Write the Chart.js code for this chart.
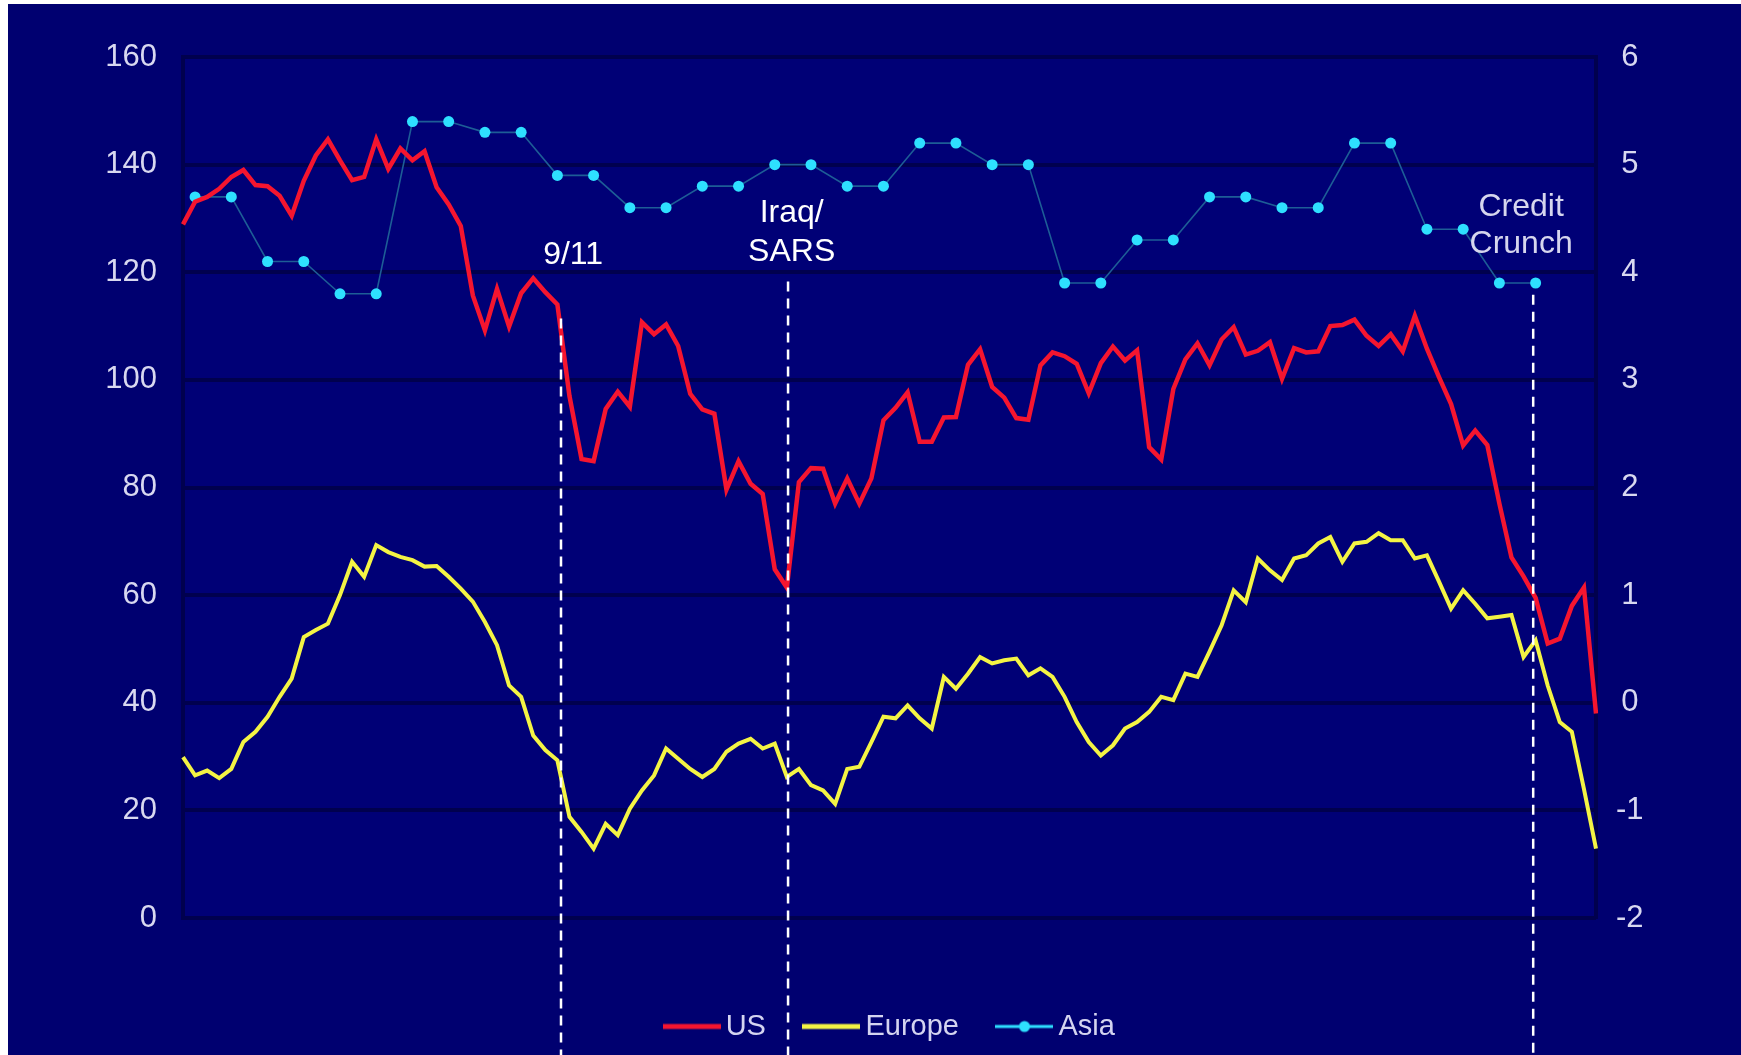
<!DOCTYPE html>
<html>
<head>
<meta charset="utf-8">
<script src="https://cdn.jsdelivr.net/npm/chart.js@4.4.1/dist/chart.umd.min.js"></script>
<style>
  html, body { margin: 0; padding: 0; background: #ffffff; width: 1741px; height: 1055px; overflow: hidden; }
  #wrap { position: absolute; left: 8px; top: 4px; width: 1733px; height: 1051px; }
</style>
</head>
<body>
<div id="wrap"><canvas id="chart" width="1733" height="1051"></canvas></div>
<script>
// ---------- DATA ----------
const monthNames = ['Jan','Feb','Mar','Apr','May','Jun','Jul','Aug','Sep','Oct','Nov','Dec'];
const firstYear = 1999;
const monthCount = 118; // Jan 1999 .. Oct 2008
const categories = Array.from({length: monthCount}, (_, i) => monthNames[i % 12] + ' ' + (firstYear + Math.floor(i / 12)));

// US (left axis), monthly
const usValues = [
  128.9, 133.1, 134.0, 135.5, 137.7, 139.0, 136.2, 136.0, 134.2, 130.5, 137.0, 141.7,
  144.7, 140.8, 137.1, 137.7, 144.7, 139.2, 143.0, 140.8, 142.5, 135.8, 132.6, 128.6,
  115.7, 109.2, 116.9, 109.9, 116.1, 118.9, 116.3, 114.0, 97.0, 85.3, 84.9, 94.6,
  97.8, 95.0, 110.7, 108.5, 110.3, 106.3, 97.4, 94.5, 93.7, 79.6, 84.9, 80.7,
  78.8, 64.8, 61.4, 81.0, 83.6, 83.5, 77.0, 81.7, 77.0, 81.7, 92.5, 94.8,
  97.7, 88.5, 88.5, 93.0, 93.1, 102.8, 105.7, 98.7, 96.7, 92.9, 92.6, 102.7,
  105.1, 104.4, 103.0, 97.5, 103.1, 106.2, 103.6, 105.5, 87.5, 85.2, 98.3, 103.8,
  106.8, 102.7, 107.5, 109.8, 104.7, 105.4, 107.0, 100.2, 105.9, 105.1, 105.3, 110.0,
  110.2, 111.2, 108.2, 106.3, 108.5, 105.3, 111.9, 105.8, 100.5, 95.5, 87.8, 90.6,
  87.9, 77.0, 67.0, 63.5, 59.5, 51.0, 51.9, 58.0, 61.4, 38.0
];

// Europe (left axis), monthly
const europeValues = [
  29.9, 26.5, 27.4, 26.0, 27.7, 32.7, 34.6, 37.4, 41.1, 44.5, 52.2, 53.5,
  54.7, 60.0, 66.2, 63.4, 69.3, 68.0, 67.1, 66.5, 65.3, 65.4, 63.4, 61.2,
  58.8, 55.0, 50.7, 43.2, 41.1, 33.9, 31.2, 29.3, 18.8, 16.0, 12.9, 17.5,
  15.4, 20.3, 23.7, 26.5, 31.5, 29.6, 27.7, 26.2, 27.7, 30.9, 32.4, 33.3,
  31.5, 32.4, 26.2, 27.7, 24.7, 23.7, 21.2, 27.7, 28.1, 32.7, 37.4, 37.1,
  39.5, 37.1, 35.2, 44.8, 42.6, 45.4, 48.5, 47.3, 47.9, 48.2, 45.1, 46.4,
  44.8, 41.1, 36.4, 32.7, 30.2, 32.1, 35.2, 36.4, 38.3, 41.1, 40.5, 45.4,
  44.8, 49.5, 54.4, 60.9, 58.7, 66.8, 64.6, 62.8, 66.8, 67.4, 69.6, 70.8,
  66.2, 69.6, 69.9, 71.5, 70.2, 70.2, 66.8, 67.4, 62.5, 57.5, 60.9, 58.4,
  55.7, 56.0, 56.3, 48.5, 51.6, 43.2, 36.4, 34.6, 24.0, 12.9
];

// Asia (right axis), one value per quarter, plotted at the middle month
const asiaValues = [
  4.7, 4.7, 4.1, 4.1, 3.8, 3.8, 5.4, 5.4, 5.3, 5.3, 4.9, 4.9, 4.6, 4.6, 4.8, 4.8, 5.0, 5.0, 4.8,
  4.8, 5.2, 5.2, 5.0, 5.0, 3.9, 3.9, 4.3, 4.3, 4.7, 4.7, 4.6, 4.6, 5.2, 5.2, 4.4, 4.4, 3.9, 3.9
];
const asiaMonths = categories.filter((_, i) => i % 3 === 1).slice(0, asiaValues.length);

// Axis ticks
const leftTicks = [0, 20, 40, 60, 80, 100, 120, 140, 160];
const rightTicks = [-2, -1, 0, 1, 2, 3, 4, 5, 6];

// Event annotations (x in month-index units, y in left-axis units)
const eventText = [['9/11'], ['Iraq/', 'SARS'], ['Credit', 'Crunch']];
const eventLineX = [31.3, 50.1, 111.8];
const eventLineTop = [111.4, 118.3, 115.8];
const eventLabelX = [32.3, 50.4, 110.8];
const eventLabelY = [[121.6], [129.4, 122.0], [130.5, 123.5]];
const eventColor = ['#ffffff', '#ffffff', '#d6d6ee'];

// ---------- STYLE ----------
const FONT = '"Liberation Sans", Arial, sans-serif';
const OUTER_BG = '#000070';
const PLOT_BG = '#000076';
const GRID = '#00004e';
const TICK_COLOR = '#d8d8f0';
const US_COLOR = '#f5152f';
const EU_COLOR = '#f4f444';
const ASIA_DOT = '#2ee0ff';

function legendIcon(color, width, withDot) {
  const c = document.createElement('canvas');
  c.width = 58; c.height = 14;
  const g = c.getContext('2d');
  g.strokeStyle = color; g.lineWidth = width;
  g.beginPath(); g.moveTo(0, 7); g.lineTo(58, 7); g.stroke();
  if (withDot) {
    g.fillStyle = color;
    g.beginPath(); g.arc(29, 7, 5.5, 0, Math.PI * 2); g.fill();
  }
  return c;
}
const legendIcons = [legendIcon(US_COLOR, 5, false), legendIcon(EU_COLOR, 5, false), legendIcon(ASIA_DOT, 3, true)];

const bgPlugin = {
  id: 'bg',
  beforeDraw(chart) {
    const {ctx, chartArea: a} = chart;
    ctx.save();
    ctx.fillStyle = OUTER_BG;
    ctx.fillRect(0, 0, chart.width, chart.height);
    ctx.fillStyle = PLOT_BG;
    ctx.fillRect(a.left, a.top, a.right - a.left, a.bottom - a.top);
    ctx.restore();
  }
};

const eventPlugin = {
  id: 'events',
  afterDraw(chart) {
    const {ctx} = chart;
    const xs = chart.scales.x, ys = chart.scales.y;
    ctx.save();
    eventText.forEach((lines, k) => {
      const x = xs.getPixelForValue(eventLineX[k]);
      ctx.strokeStyle = '#ffffff';
      ctx.lineWidth = 2.5;
      ctx.setLineDash([10, 7]);
      ctx.beginPath();
      ctx.moveTo(x, ys.getPixelForValue(eventLineTop[k]));
      ctx.lineTo(x, chart.height);
      ctx.stroke();
      ctx.setLineDash([]);
      ctx.fillStyle = eventColor[k];
      ctx.font = '32px ' + FONT;
      ctx.textAlign = 'center';
      ctx.textBaseline = 'alphabetic';
      const lx = xs.getPixelForValue(eventLabelX[k]);
      lines.forEach((t, j) => ctx.fillText(t, lx, ys.getPixelForValue(eventLabelY[k][j])));
    });
    ctx.restore();
  }
};

new Chart(document.getElementById('chart'), {
  type: 'line',
  data: {
    labels: categories,
    datasets: [
      {
        label: 'US',
        data: usValues,
        yAxisID: 'y',
        borderColor: US_COLOR,
        borderWidth: 4.5,
        pointRadius: 0,
        tension: 0,
        order: 0
      },
      {
        label: 'Europe',
        data: europeValues,
        yAxisID: 'y',
        borderColor: EU_COLOR,
        borderWidth: 4,
        pointRadius: 0,
        tension: 0,
        order: 1
      },
      {
        label: 'Asia',
        data: asiaMonths.map((m, k) => ({x: m, y: asiaValues[k]})),
        yAxisID: 'y2',
        borderColor: '#1d5d96',
        borderWidth: 1.6,
        pointRadius: 5.5,
        pointBackgroundColor: ASIA_DOT,
        pointBorderWidth: 0,
        tension: 0,
        order: 2
      }
    ]
  },
  options: {
    responsive: false,
    animation: false,
    layout: { padding: { left: 38, right: 0, top: 53, bottom: 4 } },
    plugins: {
      tooltip: { enabled: false },
      legend: {
        position: 'bottom',
        labels: {
          font: { family: FONT, size: 29 },
          color: '#d4d4f0',
          padding: 46,
          usePointStyle: true,
          pointStyleWidth: 39,
          generateLabels(chart) {
            return chart.data.datasets.map((ds, i) => ({
              text: ds.label,
              datasetIndex: i,
              hidden: false,
              fillStyle: ds.borderColor,
              strokeStyle: ds.borderColor,
              lineWidth: 0,
              pointStyle: legendIcons[i],
              fontColor: '#d4d4f0'
            }));
          }
        }
      }
    },
    scales: {
      x: {
        type: 'category',
        display: true,
        offset: false,
        grid: { display: false, drawTicks: false },
        border: { display: false },
        ticks: { display: false },
        afterFit(s) { s.height = 48; }
      },
      y: {
        position: 'left',
        min: 0,
        max: 160,
        afterBuildTicks(s) { s.ticks = leftTicks.map(v => ({value: v})); },
        ticks: { font: { family: FONT, size: 31 }, color: TICK_COLOR, padding: 26 },
        grid: { color: GRID, lineWidth: 4, drawTicks: false },
        border: { display: true, color: GRID, width: 4 },
        afterFit(s) { s.width = 137; }
      },
      y2: {
        position: 'right',
        min: -2,
        max: 6,
        afterBuildTicks(s) { s.ticks = rightTicks.map(v => ({value: v})); },
        ticks: { font: { family: FONT, size: 31 }, color: TICK_COLOR, padding: 20, crossAlign: 'center' },
        grid: { display: false, drawTicks: false },
        border: { display: true, color: GRID, width: 4 },
        afterFit(s) { s.width = 145; }
      }
    }
  },
  plugins: [bgPlugin, eventPlugin]
});
</script>
</body>
</html>
